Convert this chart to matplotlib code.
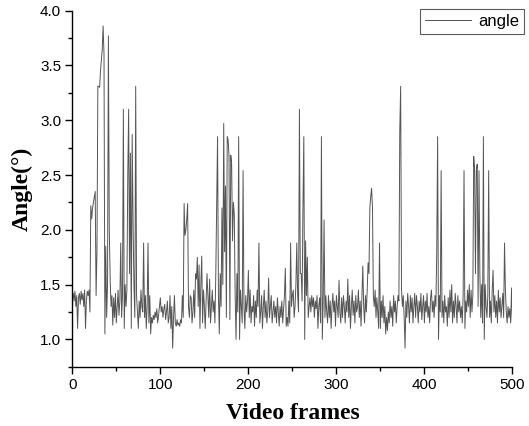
import matplotlib
matplotlib.use("Agg")
import matplotlib.pyplot as plt
from matplotlib.ticker import MultipleLocator, FormatStrFormatter

# angle per video frame (frames 0..500)
angle = [
    1.38, 1.42, 1.35, 1.44, 1.30, 1.40, 1.10, 1.38, 1.42, 1.32,
    1.44, 1.36, 1.42, 1.30, 1.45, 1.10, 1.35, 1.44, 1.40, 1.45,
    1.25, 2.22, 2.10, 2.20, 2.25, 2.30, 2.35, 1.40, 1.80, 3.31,
    3.31, 3.30, 3.45, 3.55, 3.65, 3.86, 3.60, 1.05, 1.85, 1.20,
    1.50, 3.77, 2.00, 1.55, 1.30, 1.40, 1.13, 1.38, 1.20, 1.42,
    1.15, 1.30, 1.45, 1.22, 1.35, 1.88, 1.20, 1.40, 3.10, 1.10,
    1.50, 1.30, 1.45, 2.50, 3.10, 1.60, 2.70, 1.10, 2.87, 2.07,
    1.50, 1.20, 3.31, 1.40, 1.25, 1.10, 1.35, 1.20, 1.45, 1.30,
    1.25, 1.88, 1.20, 1.40, 1.10, 1.30, 1.88, 1.15, 1.40, 1.05,
    1.20, 1.15, 1.22, 1.18, 1.25, 1.20, 1.28, 1.15, 1.22, 1.30,
    1.38, 1.25, 1.30, 1.20, 1.28, 1.32, 1.18, 1.25, 1.35, 1.15,
    1.20, 1.40, 1.10, 1.30, 0.92, 1.20, 1.40, 1.15, 1.12, 1.18,
    1.13, 1.15, 1.12, 1.18, 1.15, 1.40, 1.20, 2.24, 1.95, 2.00,
    2.10, 2.24, 1.30, 1.20, 1.40, 1.38, 1.15, 1.25, 1.45, 1.20,
    1.60, 1.55, 1.75, 1.30, 1.68, 1.10, 1.50, 1.76, 1.15, 1.45,
    1.30, 1.10, 1.35, 1.60, 1.40, 1.20, 1.55, 1.15, 1.30, 1.45,
    1.25, 1.35, 1.15, 1.60, 2.20, 2.85, 1.40, 1.05, 1.60, 1.30,
    2.20, 1.50, 2.97, 1.80, 2.40, 1.20, 2.85, 2.82, 2.68, 1.18,
    2.68, 2.60, 1.90, 2.25, 2.14, 1.40, 1.00, 1.60, 1.25, 2.85,
    1.00, 1.45, 1.30, 1.15, 2.54, 1.30, 1.10, 1.40, 1.25, 1.35,
    1.63, 1.20, 1.45, 1.15, 1.30, 1.25, 1.40, 1.12, 1.35, 1.20,
    1.45, 1.30, 1.88, 1.15, 1.25, 1.40, 1.10, 1.30, 1.45, 1.20,
    1.35, 1.15, 1.25, 1.56, 1.20, 1.30, 1.40, 1.15, 1.25, 1.35,
    1.20, 1.30, 1.15, 1.38, 1.25, 1.12, 1.30, 1.20, 1.35, 1.15,
    1.28, 1.40, 1.65, 1.12, 1.20, 1.12, 1.35, 1.15, 1.88, 1.30,
    1.40, 1.45, 1.20, 1.30, 1.50, 1.88, 1.40, 1.25, 3.10, 1.60,
    1.60, 1.35, 2.20, 2.85, 1.00, 1.90, 1.40, 1.75, 1.20, 1.30,
    1.38, 1.25, 1.40, 1.30, 1.38, 1.20, 1.35, 1.28, 1.40, 1.10,
    1.30, 1.38, 1.15, 2.85, 1.00, 1.35, 2.09, 1.20, 1.40, 1.25,
    1.15, 1.40, 1.20, 1.35, 1.10, 1.30, 1.42, 1.25, 1.35, 1.12,
    1.40, 1.30, 1.20, 1.54, 1.25, 1.15, 1.38, 1.20, 1.40, 1.30,
    1.15, 1.35, 1.25, 1.55, 1.20, 1.40, 1.10, 1.30, 1.45, 1.22,
    1.35, 1.15, 1.40, 1.25, 1.30, 1.45, 1.20, 1.35, 1.12, 1.40,
    1.67, 1.30, 1.15, 1.40, 1.25, 1.45, 1.70, 1.60, 2.20, 2.30,
    2.38, 2.20, 1.40, 1.30, 1.45, 1.20, 1.38, 1.25, 1.10, 1.88,
    1.10, 1.35, 1.20, 1.40, 1.15, 1.30, 1.05, 1.20, 1.08, 1.25,
    1.15, 1.35, 1.20, 1.30, 1.12, 1.40, 1.25, 1.35, 1.15, 1.30,
    1.40, 1.35, 2.90, 3.31, 1.45, 1.30, 1.40, 1.20, 0.92, 1.35,
    1.20, 1.42, 1.30, 1.15, 1.40, 1.25, 1.38, 1.15, 1.30, 1.42,
    1.20, 1.40, 1.30, 1.15, 1.35, 1.25, 1.42, 1.18, 1.30, 1.40,
    1.15, 1.35, 1.25, 1.42, 1.20, 1.30, 1.15, 1.38, 1.45, 1.25,
    1.35, 1.20, 1.40, 1.30, 1.80, 2.85, 1.00, 1.40, 1.25, 2.54,
    1.20, 1.35, 1.15, 1.40, 1.25, 1.30, 1.12, 1.38, 1.20, 1.45,
    1.25, 1.50, 1.15, 1.35, 1.20, 1.42, 1.30, 1.15, 1.40, 1.25,
    1.35, 1.20, 1.30, 1.15, 1.40, 2.54, 1.10, 1.35, 1.25, 1.45,
    1.30, 1.50, 1.20, 1.45, 1.25, 1.40, 2.67, 2.55, 1.60, 2.54,
    2.60, 1.30, 2.54, 1.60, 1.20, 1.50, 1.15, 2.85, 1.00, 1.50,
    1.30, 1.20, 1.40, 2.54, 1.20, 1.35, 1.15, 1.45, 1.63, 1.25,
    1.40, 1.20, 1.35, 1.15, 1.45, 1.25, 1.38, 1.20, 1.30, 1.42,
    1.20, 1.88, 1.45, 1.25, 1.15, 1.30, 1.20, 1.28, 1.15, 1.47,
    1.17,
]
frames = list(range(len(angle)))

LINE = "#555555"
SANS = ["Liberation Sans", "DejaVu Sans"]
SERIF = ["Liberation Serif", "DejaVu Serif"]

fig = plt.figure(figsize=(5.29, 4.26), dpi=100)
ax = fig.add_axes([0.1367, 0.139, 0.832, 0.836])

ax.plot(frames, angle, color=LINE, lw=0.7, label="angle")

ax.set_xlim(0, 500)
ax.set_ylim(0.75, 4.0)
ax.xaxis.set_major_locator(MultipleLocator(100))
ax.xaxis.set_minor_locator(MultipleLocator(50))
ax.yaxis.set_major_locator(MultipleLocator(0.5))
ax.yaxis.set_minor_locator(MultipleLocator(0.25))
ax.yaxis.set_major_formatter(FormatStrFormatter("%.1f"))

for side in ("top", "right"):
    ax.spines[side].set_visible(False)
for side in ("left", "bottom"):
    ax.spines[side].set_linewidth(1.0)

ax.tick_params(which="major", direction="out", length=5, width=1.0,
               labelsize=11, pad=3)
ax.tick_params(which="minor", direction="out", length=3, width=1.0)
for lbl in ax.get_xticklabels() + ax.get_yticklabels():
    lbl.set_family(SANS)

ax.set_xlabel("Video frames", family=SERIF, fontsize=17, fontweight="bold",
              labelpad=8)
ax.set_ylabel("Angle(°)", family=SERIF, fontsize=17, fontweight="bold",
              labelpad=5)

leg = ax.legend(loc="upper right", bbox_to_anchor=(524 / 529, 1 - 9 / 426),
                bbox_transform=fig.transFigure, frameon=True, fancybox=False,
                prop={"family": "Liberation Sans", "size": 12},
                handlelength=2.8, borderpad=0.3, handletextpad=0.4,
                borderaxespad=0)
leg.get_frame().set_edgecolor("#333333")
leg.get_frame().set_linewidth(0.8)

fig.savefig("out.png", dpi=100)
